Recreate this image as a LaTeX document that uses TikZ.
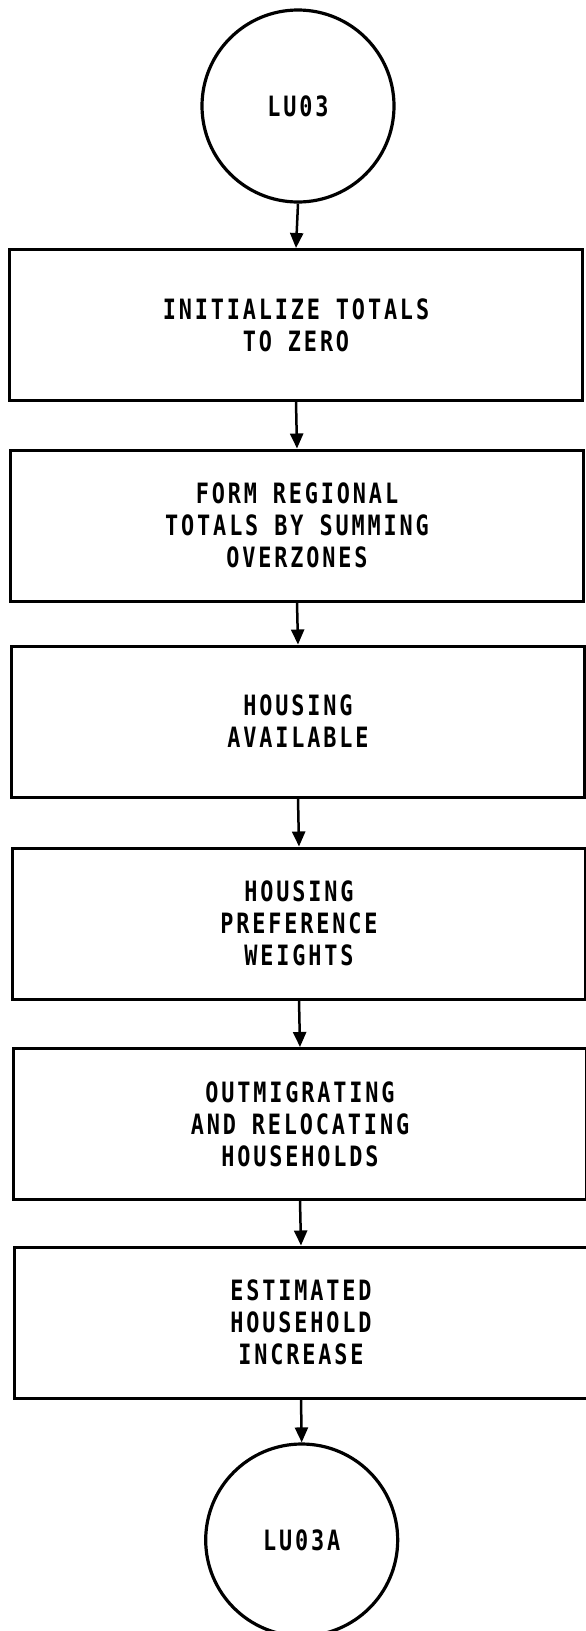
\documentclass[tikz,border=0pt]{standalone}
\usepackage{fontspec}
\usetikzlibrary{arrows.meta}
% Stencil-like lettering: a narrowed, spaced-out monospaced sans
\newfontfamily\letterfont[FakeStretch=0.78, LetterSpace=10.2]{DejaVu Sans Mono Bold}
\newcommand{\lettertext}{\letterfont\fontsize{28}{32}\selectfont}

\begin{document}
\begin{tikzpicture}[x=1pt,y=-1pt,
  stepbox/.style={draw, line width=3pt, rectangle, minimum width=573pt,
    minimum height=151pt, inner sep=0pt, align=center, font=\lettertext},
  terminal/.style={draw, line width=3.2pt, circle, minimum size=192pt,
    inner sep=0pt, font=\lettertext},
  flow/.style={line width=2.5pt, -{Triangle[length=15pt,width=13pt]}}]

\useasboundingbox (0,0) rectangle (586,1631);
\fill[white] (0,0) rectangle (586,1631);
\clip (0,0) rectangle (586,1631);

% entry connector
\node[terminal] (start) at (298,106) {LU03};

% processing steps
\node[stepbox] (init)   at (296,325)    {INITIALIZE TOTALS\\TO ZERO};
\node[stepbox] (region) at (297,525.5)  {FORM REGIONAL\\TOTALS BY SUMMING\\OVERZONES};
\node[stepbox] (avail)  at (298,721.5)  {HOUSING\\AVAILABLE};
\node[stepbox] (pref)   at (299,923.5)  {HOUSING\\PREFERENCE\\WEIGHTS};
\node[stepbox] (move)   at (300,1124)   {OUTMIGRATING\\AND RELOCATING\\HOUSEHOLDS};
\node[stepbox] (incr)   at (301,1322.5) {ESTIMATED\\HOUSEHOLD\\INCREASE};

% exit connector
\node[terminal] (next) at (301.7,1540) {LU03A};

% flow of control
\draw[flow] (start.south) -- (init.north);
\draw[flow] (init.south) -- (region.north);
\draw[flow] (region.south) -- (avail.north);
\draw[flow] (avail.south) -- (pref.north);
\draw[flow] (pref.south) -- (move.north);
\draw[flow] (move.south) -- (incr.north);
\draw[flow] (incr.south) -- (next.north);
\end{tikzpicture}
\end{document}
